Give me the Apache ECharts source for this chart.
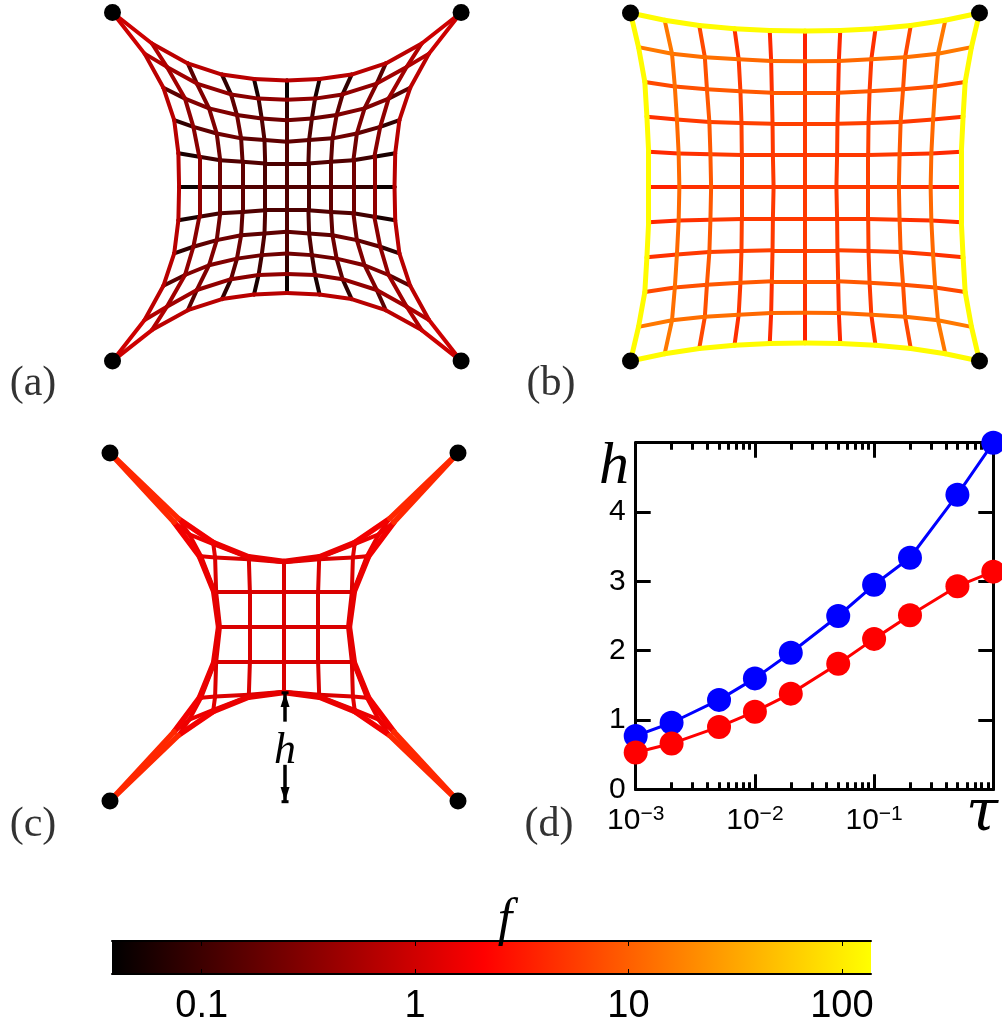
<!DOCTYPE html>
<html><head><meta charset="utf-8">
<style>html,body{margin:0;padding:0;background:#fff}#c{width:1002px;height:1026px}</style>
<script src="https://cdn.jsdelivr.net/npm/echarts@6/dist/echarts.min.js"></script>
</head><body><div id="c"></div>
<script>
// Mesh nodes, top-left quadrant, distance from mesh centre (row = from boundary to centre row)
const aX=[[5.00,3.87,2.84,1.86,0.94,0],[4.08,3.44,2.58,1.60,0.81,0],[3.54,2.92,2.23,1.43,0.72,0],[3.23,2.68,2.01,1.31,0.64,0],[3.11,2.51,1.91,1.27,0.62,0],[3.09,2.51,1.91,1.27,0.62,0]];
const aY=[[5.00,4.11,3.54,3.22,3.09,3.05],[3.82,3.44,2.96,2.65,2.53,2.50],[2.84,2.53,2.25,2.06,1.96,1.91],[1.91,1.72,1.53,1.39,1.34,1.29],[0.96,0.86,0.76,0.72,0.67,0.67],[0,0,0,0,0,0]];
const aF=[[0.95,0.72,0.69,0.69,0.69],[0.61,0.47,0.37,0.33,0.37],[0.157,0.29,0.29,0.22,0.22],[0.081,0.17,0.22,0.17,0.17],[0.056,0.105,0.135,0.135,0.125],[0.045,0.088,0.135,0.135,0.135]];
const bX=[[5.00,4.02,3.03,2.02,1.01,0],[4.77,3.81,2.87,1.90,0.97,0],[4.59,3.73,2.81,1.85,0.95,0],[4.53,3.67,2.74,1.82,0.93,0],[4.48,3.62,2.71,1.81,0.92,0],[4.48,3.60,2.69,1.81,0.90,0]];
const bY=[[5.00,4.79,4.64,4.55,4.50,4.48],[4.02,3.83,3.73,3.67,3.62,3.61],[3.02,2.89,2.81,2.75,2.71,2.71],[2.02,1.94,1.87,1.84,1.82,1.82],[1.01,0.96,0.94,0.92,0.92,0.92],[0,0,0,0,0,0]];
const bF=[[130,130,130,130,130],[15,13,13,11.6,11.6],[6.9,7.8,8.9,8.9,8.9],[4.6,5.3,6.0,6.0,6.0],[4.1,4.6,5.3,5.3,5.3],[3.6,4.6,5.3,5.3,5.3]];
const cX=[[5.00,3.04,2.03,1.02,0],[3.16,2.72,2.03,1.02,0],[2.43,2.38,1.98,1.01,0],[2.02,1.99,1.95,0.98,0],[1.88,1.86,1.84,0.98,0]];
const cY=[[5.00,3.12,2.43,2.02,1.88],[3.01,2.66,2.38,1.99,1.88],[2.03,2.03,2.00,1.95,1.86],[1.02,1.02,1.01,1.01,1.01],[0,0,0,0,0]];
const cF=[[4.0,1.7,1.5,1.4],[1.6,1.5,1.3,1.3],[1.4,1.3,1.2,1.2],[1.3,1.2,1.15,1.15],[1.3,1.2,1.15,1.15]];
const pins=[[-5,5],[5,5],[-5,-5],[5,-5]];
const hArrowUp=[[0.03,-1.89],[0.03,-2.72]];
const hArrowDown=[[0.03,-3.96],[0.03,-5.02]];
// Panel (d)
const tau=[0.001,0.002,0.005,0.01,0.02,0.05,0.1,0.2,0.5,1];
const hBlue=[0.77,0.96,1.29,1.60,1.97,2.50,2.95,3.34,4.25,5.00];
const hRed=[0.53,0.66,0.90,1.12,1.38,1.81,2.17,2.51,2.93,3.14];
const tauMajor=[0.001,0.01,0.1];
const tauMinor=[0.002,0.003,0.004,0.005,0.006,0.007,0.008,0.009,0.02,0.03,0.04,0.05,0.06,0.07,0.08,0.09,0.2,0.3,0.4,0.5,0.6,0.7,0.8,0.9];
const hTicks=[0,1,2,3,4];
// Colour bar
const barMin=0.038, barMax=137, barRed=2.1;
const barTicks=[0.1,1,10,100];

function hot(f){
  const t=(Math.log10(f)-Math.log10(barMin))/(Math.log10(barMax)-Math.log10(barMin));
  const tr=(Math.log10(barRed)-Math.log10(barMin))/(Math.log10(barMax)-Math.log10(barMin));
  if(t<tr) return `rgb(${Math.round(255*Math.max(t,0)/tr)},0,0)`;
  return `rgb(255,${Math.round(255*Math.min((t-tr)/(1-tr),1))},0)`;
}
const barFrac=(Math.log10(barRed)-Math.log10(barMin))/(Math.log10(barMax)-Math.log10(barMin));
function edges(X,Y,F,bw,w){
  const n=X.length,out=[];
  const add=(r1,c1,r2,c2,f,width)=>{
    for(const sx of [-1,1])for(const sy of [-1,1]){
      out.push({f,coords:[[sx*X[r1][c1],sy*Y[r1][c1]],[sx*X[r2][c2],sy*Y[r2][c2]]],
        lineStyle:{color:hot(f),width,opacity:1,curveness:0,cap:'round'}});
    }
  };
  for(let r=0;r<n;r++)for(let c=0;c<n-1;c++){
    const width=r===0?bw:w;
    add(r,c,r,c+1,F[r][c],width);   // along a row
    add(c,r,c+1,r,F[r][c],width);   // along a column: mesh is symmetric about its diagonal
  }
  return out.sort((p,q)=>p.f-q.f);
}
const meshAxis=i=>({type:'value',gridIndex:i,min:-5,max:5,show:false});
const meshSeries=(i,X,Y,F,bw,w)=>({type:'lines',coordinateSystem:'cartesian2d',xAxisIndex:i,yAxisIndex:i,polyline:false,clip:false,silent:true,
  data:edges(X,Y,F,bw,w),z:2});
const pinSeries=i=>({type:'scatter',xAxisIndex:i,yAxisIndex:i,data:pins,symbolSize:17,clip:false,silent:true,itemStyle:{color:'#000',opacity:1},z:5});
const black={color:'#000',width:3};
const dX=(i,pos,vals,len,lab)=>({type:'log',logBase:10,gridIndex:i,position:pos,min:0.001,max:1,
  axisLine:{show:true,onZero:false,lineStyle:black},
  axisTick:{show:true,inside:true,length:len,customValues:vals,lineStyle:black},
  minorTick:{show:false},splitLine:{show:false},
  axisLabel:lab?{show:true,customValues:tauMajor,margin:14,color:'#000',fontFamily:'Liberation Sans',
    hideOverlap:false,showMinLabel:true,
    formatter:v=>`{b|10}{s|${String(Math.round(Math.log10(v))).replace('-','\u2212')}}`,
    rich:{b:{fontSize:30,fontFamily:'Liberation Sans',color:'#000'},s:{fontSize:21,fontFamily:'Liberation Sans',color:'#000',padding:[0,0,14,0]}}}:{show:false}});
const dY=(pos,lab)=>({type:'value',gridIndex:3,position:pos,min:0,max:5,interval:1,
  axisLine:{show:true,onZero:false,lineStyle:black},
  axisTick:{show:true,inside:true,length:15,lineStyle:black},
  splitLine:{show:false},
  axisLabel:lab?{show:true,customValues:hTicks,margin:10,fontSize:30,fontFamily:'Liberation Sans',color:'#000'}:{show:false}});
const barX=(pos,lab)=>({type:'log',logBase:10,gridIndex:5,position:pos,min:barMin,max:barMax,
  axisLine:{show:true,onZero:false,lineStyle:{color:'#000',width:2}},
  axisTick:{show:true,inside:true,length:5,customValues:barTicks,lineStyle:{color:'#000',width:1}},
  minorTick:{show:false},splitLine:{show:false},
  axisLabel:lab?{show:true,customValues:barTicks,margin:14,fontSize:38,fontFamily:'Liberation Sans',color:'#000',hideOverlap:false,
    formatter:v=>String(v)}:{show:false}});
const lineSeries=(vals,color)=>({type:'line',xAxisIndex:3,yAxisIndex:3,data:tau.map((t,k)=>[t,vals[k]]),clip:false,silent:true,
  symbol:'circle',symbolSize:24,showAllSymbol:true,lineStyle:{color,width:3},itemStyle:{color,opacity:1},z:4});
const txt=(text,x,y,font,fill)=>({type:'text',x,y,silent:true,z:20,style:{text,font,fill:fill||'#000',textAlign:'center',textVerticalAlign:'middle'}});

const chart=echarts.init(document.getElementById('c'),null,{renderer:'canvas'});
chart.setOption({
  animation:false,backgroundColor:'#fff',
  grid:[
    {left:112.5,top:12.5,width:348.6,height:348.6},
    {left:630.5,top:13,width:349,height:348},
    {left:110,top:453,width:348,height:348},
    {left:635.7,top:442.7,width:357.6,height:346.6},
    {left:635.7,top:442.7,width:357.6,height:346.6},
    {left:112,top:941,width:759,height:33,show:true,borderWidth:0,
      backgroundColor:new echarts.graphic.LinearGradient(0,0,1,0,[{offset:0,color:'#000'},{offset:barFrac,color:'#f00'},{offset:1,color:'#ff0'}])}
  ],
  xAxis:[meshAxis(0),meshAxis(1),meshAxis(2),
    dX(3,'bottom',tauMajor,15,true),dX(3,'top',tauMajor,15,false),
    dX(4,'bottom',tauMinor,7,false),dX(4,'top',tauMinor,7,false),
    barX('bottom',true),barX('top',false)],
  yAxis:[meshAxis(0),meshAxis(1),meshAxis(2),
    dY('left',true),dY('right',false),
    {type:'value',gridIndex:4,min:0,max:5,show:false},
    {type:'value',gridIndex:5,min:0,max:1,show:false}],
  series:[
    meshSeries(0,aX,aY,aF,4,4),meshSeries(1,bX,bY,bF,5,4),meshSeries(2,cX,cY,cF,5.5,4),
    pinSeries(0),pinSeries(1),pinSeries(2),
    {type:'lines',coordinateSystem:'cartesian2d',xAxisIndex:2,yAxisIndex:2,polyline:false,clip:false,silent:true,z:6,
      lineStyle:{color:'#000',width:3.5,opacity:1,curveness:0},data:[{coords:hArrowUp},{coords:hArrowDown}]},
    {type:'scatter',xAxisIndex:2,yAxisIndex:2,clip:false,silent:true,z:7,symbol:'triangle',symbolSize:[9,14],itemStyle:{color:'#000',opacity:1},
      data:[{value:[hArrowUp[0][0],-2.1]}]},
    {type:'scatter',xAxisIndex:2,yAxisIndex:2,clip:false,silent:true,z:7,symbol:'triangle',symbolSize:[9,14],symbolRotate:180,itemStyle:{color:'#000',opacity:1},
      data:[{value:[hArrowDown[0][0],-4.8]}]},
    {type:'scatter',xAxisIndex:2,yAxisIndex:2,clip:false,silent:true,z:7,symbol:'rect',symbolSize:[7,3],itemStyle:{color:'#000',opacity:1},
      data:[hArrowUp[0],hArrowDown[1]]},
    lineSeries(hBlue,'#0000ff'),lineSeries(hRed,'#ff0000')
  ],
  graphic:[
    txt('(a)',33,384,'42px "Liberation Serif"','#333'),
    txt('(b)',551,384,'42px "Liberation Serif"','#333'),
    txt('(c)',33,825,'42px "Liberation Serif"','#333'),
    txt('(d)',549,825,'42px "Liberation Serif"','#333'),
    txt('h',285,751,'italic 44px "Liberation Serif"'),
    txt('h',614,467,'italic 60px "Liberation Serif"'),
    txt('\u03c4',982,815,'italic 58px "DejaVu Serif"'),
    txt('f',505,921,'italic 52px "Liberation Serif"')
  ]
});
</script></body></html>
